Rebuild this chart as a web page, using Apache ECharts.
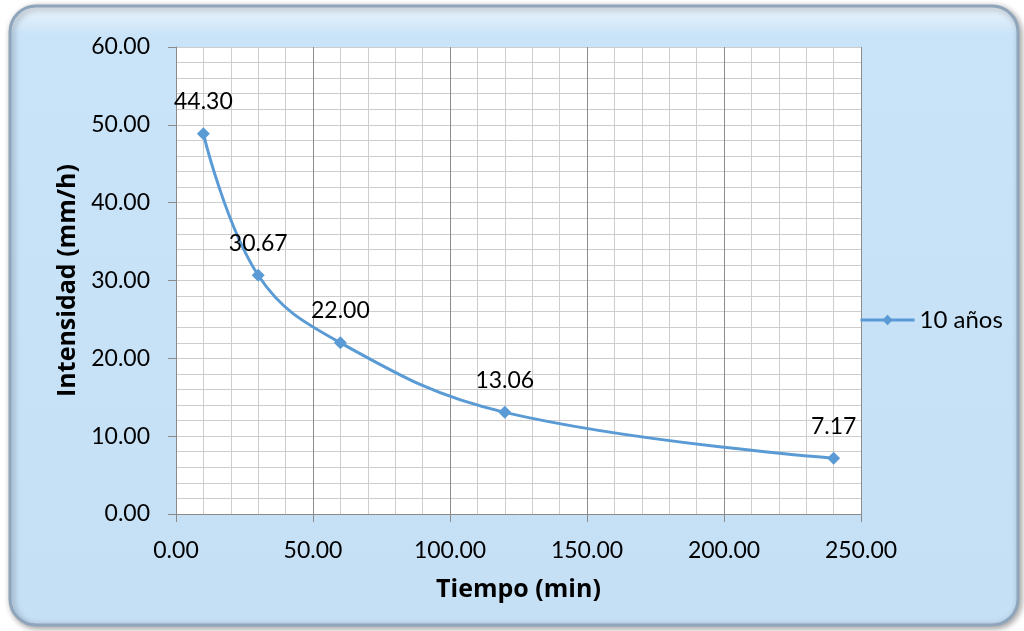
<!DOCTYPE html>
<html>
<head>
<meta charset="utf-8">
<script src="https://cdn.jsdelivr.net/npm/echarts@6/dist/echarts.min.js"></script>
<style>
  html, body { margin: 0; padding: 0; background: #fff; }
  #chart { width: 1024px; height: 631px; }
</style>
</head>
<body>
<div id="chart"></div>
<script>
// tiempo (min) vs intensidad (mm/h)
let tiempo = [10, 30, 60, 120, 240];
let intensidad = [48.85, 30.67, 22.0, 13.06, 7.17];
// texto de las etiquetas tal como aparecen en el grafico
let etiquetas = ['44.30', '30.67', '22.00', '13.06', '7.17'];
let serieNombre = '10 años';

let font = 'Lato';
let fontTitulo = 'Open Sans';
let chart = echarts.init(document.getElementById('chart'));

let puntos = tiempo.map(function (t, i) {
  return { value: [t, intensidad[i]], label: { formatter: etiquetas[i] } };
});

chart.setOption({
  backgroundColor: '#fff',
  animation: false,
  textStyle: { fontFamily: font },
  graphic: [
    {
      type: 'rect',
      z: -10,
      shape: { x: 10, y: 6, width: 1008, height: 619, r: 26 },
      style: {
        fill: {
          type: 'linear', x: 0, y: 0, x2: 0, y2: 1,
          colorStops: [
            { offset: 0, color: '#eef6fd' },
            { offset: 0.05, color: '#c9e3f8' },
            { offset: 1, color: '#c5dff5' }
          ]
        },
        stroke: '#8fa5bb',
        lineWidth: 3,
        shadowBlur: 6,
        shadowOffsetX: 2,
        shadowOffsetY: 2,
        shadowColor: 'rgba(0,0,0,0.35)'
      }
    }
  ],
  grid: {
    left: 176,
    right: 163,
    top: 47,
    bottom: 117,
    show: true,
    backgroundColor: '#fff',
    borderWidth: 0
  },
  legend: {
    orient: 'vertical',
    left: 854,
    top: 303,
    itemWidth: 54,
    itemHeight: 13,
    itemGap: 5,
    lineStyle: { width: 3 },
    textStyle: { fontFamily: font, fontSize: 24, color: '#000' },
    data: [serieNombre]
  },
  xAxis: {
    type: 'value',
    min: 0,
    max: 250,
    interval: 50,
    name: 'Tiempo (min)',
    nameLocation: 'middle',
    nameGap: 63,
    nameTextStyle: { fontFamily: fontTitulo, fontSize: 25, fontWeight: 'bold', color: '#000' },
    axisLine: { show: true, lineStyle: { color: '#8a8a8a', width: 1 } },
    axisTick: { show: true, length: 8, lineStyle: { color: '#8a8a8a' } },
    axisLabel: {
      margin: 25,
      fontFamily: font,
      fontSize: 23,
      color: '#000',
      formatter: function (v) { return v.toFixed(2); }
    },
    splitLine: { show: true, lineStyle: { color: '#8c8c8c', width: 1 } },
    minorTick: { show: false, splitNumber: 5 },
    minorSplitLine: { show: true, lineStyle: { color: '#cdcdcd', width: 1 } }
  },
  yAxis: {
    type: 'value',
    min: 0,
    max: 60,
    interval: 10,
    name: 'Intensidad (mm/h)',
    nameLocation: 'middle',
    nameGap: 95,
    nameTextStyle: { fontFamily: fontTitulo, fontSize: 25, fontWeight: 'bold', color: '#000' },
    axisLine: { show: true, lineStyle: { color: '#8a8a8a', width: 1 } },
    axisTick: { show: true, length: 8, lineStyle: { color: '#8a8a8a' } },
    axisLabel: {
      margin: 26,
      fontFamily: font,
      fontSize: 23,
      color: '#000',
      formatter: function (v) { return v.toFixed(2); }
    },
    splitLine: { show: true, lineStyle: { color: '#cdcdcd', width: 1 } },
    minorTick: { show: false, splitNumber: 5 },
    minorSplitLine: { show: true, lineStyle: { color: '#cdcdcd', width: 1 } }
  },
  series: [
    {
      name: serieNombre,
      type: 'line',
      smooth: 0.4,
      symbol: 'diamond',
      symbolSize: 13,
      color: '#5b9bd5',
      lineStyle: { width: 3, color: '#5b9bd5' },
      itemStyle: { color: '#5b9bd5' },
      label: {
        show: true,
        position: 'top',
        distance: 14,
        fontFamily: font,
        fontSize: 23,
        color: '#000'
      },
      data: puntos
    }
  ]
});
</script>
</body>
</html>
